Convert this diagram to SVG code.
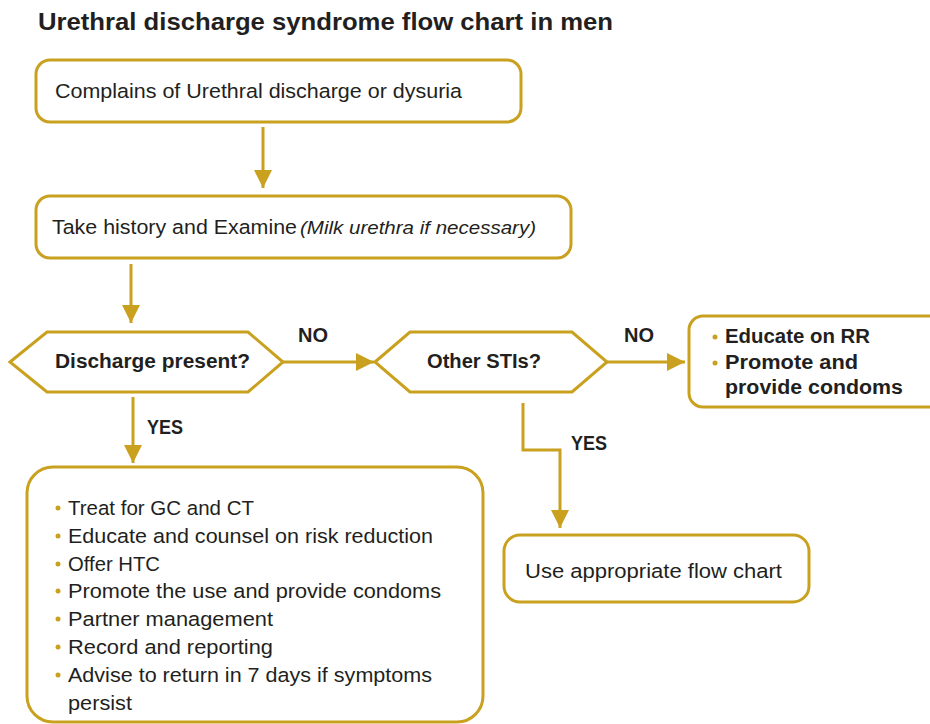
<svg xmlns="http://www.w3.org/2000/svg" width="930" height="724" viewBox="0 0 930 724">
  <style>
    .box { fill: #ffffff; stroke: #C9A11F; stroke-width: 3; }
    .line { fill: none; stroke: #C9A11F; stroke-width: 3; }
    text { font-family: "Liberation Sans", Arial, sans-serif; fill: #231F20; }
    .title { font-size: 24px; font-weight: bold; }
    .t { font-size: 20.5px; }
    .b { font-size: 20px; font-weight: bold; }
    .bullet { fill: #C9A11F; }
  </style>
  <defs>
    <marker id="arrow" markerUnits="userSpaceOnUse" markerWidth="20" markerHeight="20" refX="18" refY="9" orient="auto">
      <path d="M0,0 L18,9 L0,18 Z" fill="#C9A11F"/>
    </marker>
  </defs>

  <rect width="930" height="724" fill="#ffffff"/>

  <text class="title" x="38" y="30" textLength="575" lengthAdjust="spacingAndGlyphs">Urethral discharge syndrome flow chart in men</text>

  <!-- connectors -->
  <g id="connectors">
    <line class="line" x1="263" y1="127" x2="263" y2="188" marker-end="url(#arrow)"/>
    <line class="line" x1="131" y1="264" x2="131" y2="323" marker-end="url(#arrow)"/>
    <line class="line" x1="283" y1="362" x2="374" y2="362" marker-end="url(#arrow)"/>
    <line class="line" x1="607" y1="362" x2="685" y2="362" marker-end="url(#arrow)"/>
    <line class="line" x1="133" y1="397" x2="133" y2="463" marker-end="url(#arrow)"/>
    <polyline class="line" points="523,403 523,450 560,450 560,528" marker-end="url(#arrow)"/>
    <text class="b" x="298" y="342" textLength="30" lengthAdjust="spacingAndGlyphs">NO</text>
    <text class="b" x="624" y="342" textLength="30" lengthAdjust="spacingAndGlyphs">NO</text>
    <text class="b" x="147" y="434" textLength="36" lengthAdjust="spacingAndGlyphs">YES</text>
    <text class="b" x="571" y="450" textLength="36" lengthAdjust="spacingAndGlyphs">YES</text>
  </g>

  <g id="complains">
    <rect class="box" x="36" y="60" width="485" height="62" rx="14"/>
    <text class="t" x="55" y="98" textLength="407" lengthAdjust="spacingAndGlyphs">Complains of Urethral discharge or dysuria</text>
  </g>

  <g id="history">
    <rect class="box" x="36" y="196" width="535" height="62" rx="14"/>
    <text class="t" x="52" y="234"><tspan textLength="245" lengthAdjust="spacingAndGlyphs">Take history and Examine</tspan> <tspan x="300" font-style="italic" font-size="18" textLength="236" lengthAdjust="spacingAndGlyphs">(Milk urethra if necessary)</tspan></text>
  </g>

  <g id="discharge-present">
    <polygon class="box" points="10,362 47,332 248,332 283,362 248,392 47,392"/>
    <text class="b" x="55" y="368" textLength="195" lengthAdjust="spacingAndGlyphs">Discharge present?</text>
  </g>

  <g id="other-stis">
    <polygon class="box" points="375,362 410,332 572,332 607,362 572,392 410,392"/>
    <text class="b" x="427" y="368" textLength="114" lengthAdjust="spacingAndGlyphs">Other STIs?</text>
  </g>

  <g id="educate-rr">
    <rect class="box" x="689" y="316" width="260" height="91" rx="14"/>
    <circle class="bullet" cx="715" cy="337" r="2.5"/>
    <text class="b" x="725" y="343" textLength="145" lengthAdjust="spacingAndGlyphs">Educate on RR</text>
    <circle class="bullet" cx="715" cy="363" r="2.5"/>
    <text class="b" x="725" y="369" textLength="133" lengthAdjust="spacingAndGlyphs">Promote and</text>
    <text class="b" x="725" y="394" textLength="178" lengthAdjust="spacingAndGlyphs">provide condoms</text>
  </g>

  <g id="treatment">
    <rect class="box" x="27" y="467" width="456" height="255" rx="26"/>
    <circle class="bullet" cx="58" cy="508" r="2.5"/>
    <text class="t" x="68" y="515" textLength="186" lengthAdjust="spacingAndGlyphs">Treat for GC and CT</text>
    <circle class="bullet" cx="58" cy="536" r="2.5"/>
    <text class="t" x="68" y="543" textLength="365" lengthAdjust="spacingAndGlyphs">Educate and counsel on risk reduction</text>
    <circle class="bullet" cx="58" cy="564" r="2.5"/>
    <text class="t" x="68" y="571" textLength="92" lengthAdjust="spacingAndGlyphs">Offer HTC</text>
    <circle class="bullet" cx="58" cy="591" r="2.5"/>
    <text class="t" x="68" y="598" textLength="373" lengthAdjust="spacingAndGlyphs">Promote the use and provide condoms</text>
    <circle class="bullet" cx="58" cy="619" r="2.5"/>
    <text class="t" x="68" y="626" textLength="205" lengthAdjust="spacingAndGlyphs">Partner management</text>
    <circle class="bullet" cx="58" cy="647" r="2.5"/>
    <text class="t" x="68" y="654" textLength="205" lengthAdjust="spacingAndGlyphs">Record and reporting</text>
    <circle class="bullet" cx="58" cy="675" r="2.5"/>
    <text class="t" x="68" y="682" textLength="364" lengthAdjust="spacingAndGlyphs">Advise to return in 7 days if symptoms</text>
    <text class="t" x="68" y="710" textLength="64" lengthAdjust="spacingAndGlyphs">persist</text>
  </g>

  <g id="appropriate-chart">
    <rect class="box" x="504" y="535" width="305" height="67" rx="16"/>
    <text class="t" x="525" y="578" textLength="257" lengthAdjust="spacingAndGlyphs">Use appropriate flow chart</text>
  </g>
</svg>
